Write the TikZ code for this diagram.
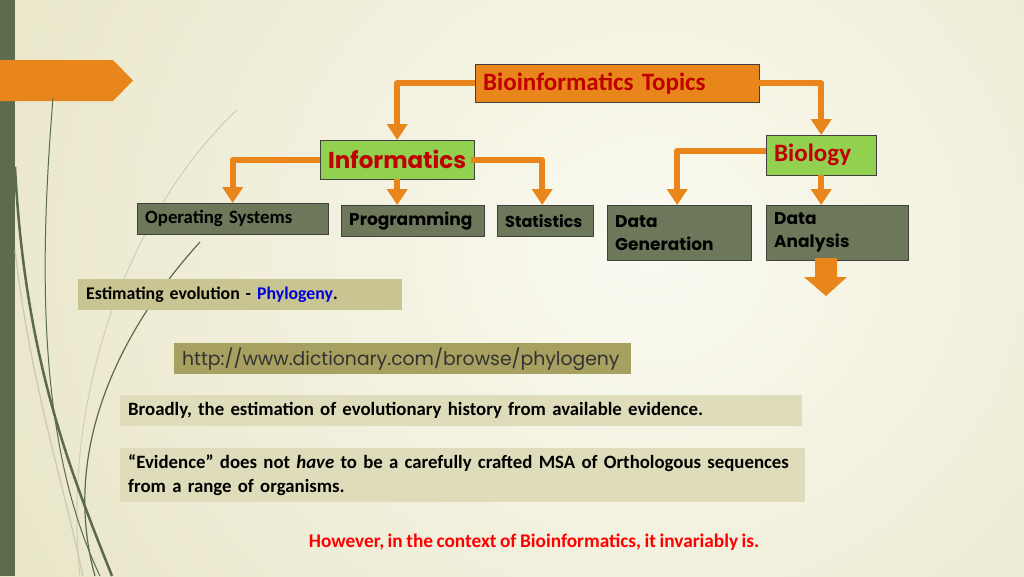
\documentclass[tikz,border=0pt]{standalone}
\usepackage{fontspec}
\setmainfont{Carlito}[WordSpace=0.8]
\newfontfamily\gothic{Poppins}
\usepackage{xcolor}
\usetikzlibrary{arrows.meta,positioning}
\definecolor{orangeline}{HTML}{E8861C}
\definecolor{titlered}{HTML}{C00000}
\definecolor{leafgreen}{HTML}{92D050}
\definecolor{slate}{HTML}{6D785B}
\definecolor{khaki}{HTML}{C9C593}
\definecolor{olive}{HTML}{A6A061}
\definecolor{pale}{HTML}{DEDCBA}
\definecolor{barcolor}{HTML}{5E6C4E}
\definecolor{bglight}{HTML}{FAFAF1}
\definecolor{bgdark}{HTML}{E8E5C6}
\definecolor{grass}{HTML}{5B6A4A}
\definecolor{grasslight}{HTML}{C9C8B4}
\tikzstyle{arrow} = [line width=6pt, draw=orangeline, line join=round, -{Triangle[width=20pt,length=16pt]}]
\tikzstyle{box} = [rectangle, draw=black!75, anchor=north west, align=left, inner xsep=8pt, inner ysep=0pt]
\tikzstyle{topic} = [box, fill=leafgreen, text=titlered, font=\bfseries\fontsize{25}{29}\selectfont]
\tikzstyle{leaf} = [box, fill=slate, font=\gothic\bfseries\fontsize{17}{23}\selectfont]
\tikzstyle{note} = [rectangle, anchor=north west, align=left, inner xsep=8pt, inner ysep=0pt, font=\bfseries\fontsize{18.8}{24}\selectfont]

\begin{document}
\begin{tikzpicture}[x=1pt, y=-1pt]
\useasboundingbox (0,0) rectangle (1024,576);
% background
\begin{scope}
\clip (0,0) rectangle (1024,576);
\shade[inner color=bglight, outer color=bgdark] (-100,-450) rectangle (1400,950);
\end{scope}
\fill[barcolor] (0,0) rectangle (15,576);
\fill[orangeline] (0,60) -- (113,60) -- (133,80.5) -- (113,101) -- (0,101) -- cycle;
% grass
\draw[grasslight, line width=0.8pt] (237,110) .. controls (140,200) and (60,380) .. (80,576);
\draw[grasslight, line width=1.2pt] (15,250) .. controls (30,380) and (60,470) .. (83,576);
\draw[grass, line width=1pt] (53,98) .. controls (38,280) and (40,450) .. (100,576);
\draw[grass, line width=2.5pt] (15,167) .. controls (25,360) and (70,470) .. (112,576);
\draw[grass, line width=1.2pt] (200,242) .. controls (120,330) and (60,450) .. (95,576);

% chart
\node (topics) [box, fill=orangeline, text=titlered, minimum height=38pt, text width=268pt,
  font=\bfseries\fontsize{25}{29}\selectfont] at (475,64) {Bioinformatics Topics};
\node (info) [topic, minimum height=39pt, text width=138pt, font=\gothic\bfseries\fontsize{23}{27}\selectfont] at (320,140) {Informatics};
\node (bio) [topic, minimum height=40pt, text width=94pt] at (766,135) {Biology};
\node (os) [leaf, minimum height=31pt, text width=175pt, font=\bfseries\fontsize{18.8}{22}\selectfont] at (137,203) {Operating Systems};
\node (prog) [leaf, minimum height=31pt, text width=127pt] at (341,205) {Programming};
\node (stats) [leaf, minimum height=31pt, text width=80pt, font=\gothic\bfseries\fontsize{16}{23}\selectfont] at (497,205) {Statistics};
\node (dgen) [leaf, minimum height=55pt, text width=128pt] at (607,205) {Data\\Generation};
\node (danal) [leaf, minimum height=55pt, text width=126pt] at (766,205) {Data\\Analysis};

\draw[arrow] (topics.west) -| (info.north);
\draw[arrow] (topics.east) -| (bio.north);
\draw[arrow] (info.west) -| (os.north);
\draw[arrow] (info.south) -- (info.south |- prog.north);
\draw[arrow] ([xshift=-3pt]info.east) -| ([xshift=-3pt]stats.north);
\draw[arrow] ([yshift=4pt]bio.west) -| ([xshift=-2pt]dgen.north);
\draw[arrow] (bio.south) -- (bio.south |- danal.north);
\fill[orangeline] (815,258) -- (837,258) -- (837,277) -- (847,277) -- (826,296) -- (804,277) -- (815,277) -- cycle;

% notes
\node (est) [note, fill=khaki, minimum height=31pt, text width=308pt, font=\bfseries\fontsize{17.8}{22}\selectfont] at (78,279) {Estimating evolution - \textcolor{blue!85!black}{Phylogeny}.};
\node (url) [note, fill=olive, minimum height=31pt, text width=441pt, text=black!80, font=\gothic\fontsize{18.8}{22}\selectfont] at (174,343) {http://www.dictionary.com/browse/phylogeny};
\node (broad) [note, fill=pale, minimum height=31pt, text width=666pt] at (120,395) {Broadly, the estimation of evolutionary history from available evidence.};
\node (evid) [note, fill=pale, minimum height=54pt, text width=669pt] at (120,448) {``Evidence'' does not \textit{have} to be a carefully crafted MSA of Orthologous sequences\\from a range of organisms.};
\node (however) [font=\bfseries\fontsize{19.3}{22}\selectfont, text=red] at (534,542) {However, in the context of Bioinformatics, it invariably is.};
\end{tikzpicture}
\end{document}
